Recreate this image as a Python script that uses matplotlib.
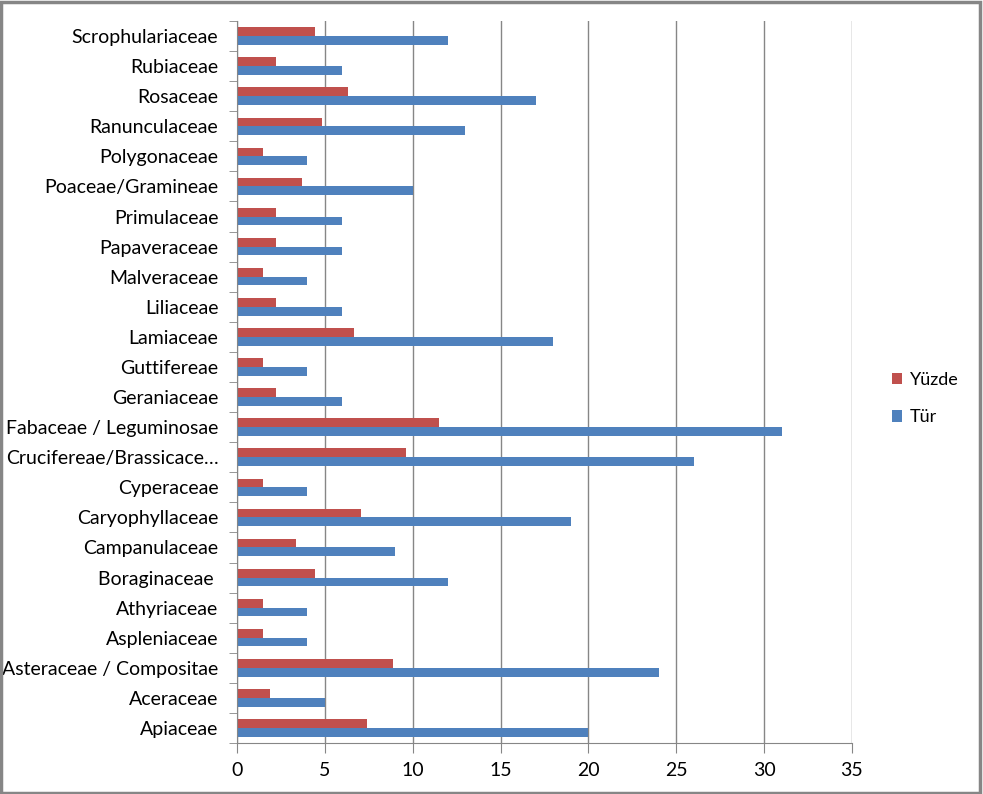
import numpy as np
import matplotlib.pyplot as plt
from matplotlib.patches import Rectangle

# Categories, bottom to top as drawn
families = [
    'Apiaceae', 'Aceraceae', 'Asteraceae / Compositae', 'Aspleniaceae',
    'Athyriaceae', 'Boraginaceae ', 'Campanulaceae', 'Caryophyllaceae',
    'Cyperaceae', 'Crucifereae/Brassicace…', 'Fabaceae / Leguminosae',
    'Geraniaceae', 'Guttifereae', 'Lamiaceae', 'Liliaceae', 'Malveraceae',
    'Papaveraceae', 'Primulaceae', 'Poaceae/Gramineae', 'Polygonaceae',
    'Ranunculaceae', 'Rosaceae', 'Rubiaceae', 'Scrophulariaceae',
]
tur = [20, 5, 24, 4, 4, 12, 9, 19, 4, 26, 31, 6, 4, 18, 6, 4, 6, 6, 10, 4, 13, 17, 6, 12]
yuzde = [7.41, 1.85, 8.89, 1.48, 1.48, 4.44, 3.33, 7.04, 1.48, 9.63, 11.48, 2.22,
         1.48, 6.67, 2.22, 1.48, 2.22, 2.22, 3.70, 1.48, 4.81, 6.30, 2.22, 4.44]
x_ticks = [0, 5, 10, 15, 20, 25, 30, 35]

plt.rcParams['font.family'] = ['Lato', 'DejaVu Sans']

fig = plt.figure(figsize=(9.83, 7.94), dpi=100)
ax = fig.add_axes([0.2411, 0.0642, 0.8667 - 0.2411, 0.9736 - 0.0642])

y = np.arange(len(families))
h = 0.29
ax.barh(y - 0.145, tur, height=h, color='#4F81BD', label='Tür', zorder=3)
ax.barh(y + 0.145, yuzde, height=h, color='#C0504D', label='Yüzde', zorder=3)

ax.set_xlim(0, 35)
ax.set_ylim(-0.5, len(families) - 0.5)
ax.set_xticks(x_ticks)
ax.set_yticks(y)
ax.set_yticklabels(families)
ax.set_yticks(np.arange(-0.5, len(families)), minor=True)

grid_c = '#868686'
ax.grid(axis='x', color=grid_c, linewidth=1, zorder=0)
for s in ['top', 'right']:
    ax.spines[s].set_visible(False)
for s in ['left', 'bottom']:
    ax.spines[s].set_color(grid_c)
    ax.spines[s].set_zorder(4)

fs = 14
ax.tick_params(axis='y', which='major', length=0, pad=13.5, labelsize=fs, labelcolor='black')
ax.tick_params(axis='y', which='minor', length=6, color=grid_c, direction='out')
ax.tick_params(axis='x', length=7, color=grid_c, pad=7, labelsize=fs)

handles, labels = ax.get_legend_handles_labels()
ax.legend(handles[::-1], labels[::-1], loc='center left', bbox_to_anchor=(1.038, 0.477),
          frameon=False, fontsize=13, handlelength=0.6, handleheight=0.6,
          handletextpad=0.4, labelspacing=1.2)

fig.patches.append(Rectangle((0.001, 0.001), 0.996, 0.997, transform=fig.transFigure,
                             fill=False, edgecolor='#868686', linewidth=2.5))

fig.savefig('out.png', dpi=100)
